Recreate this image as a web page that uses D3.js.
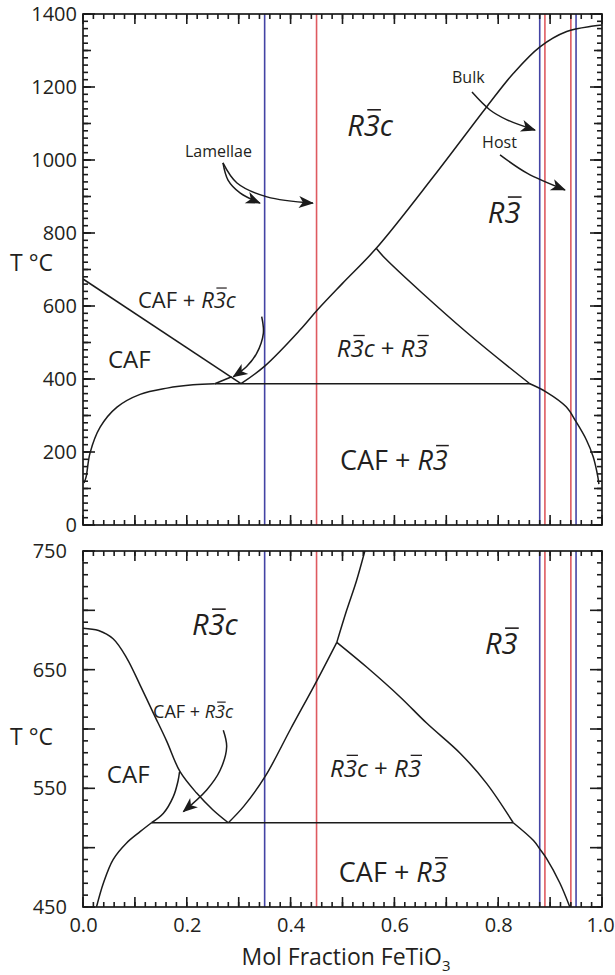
<!DOCTYPE html>
<html><head><meta charset="utf-8">
<script src="https://cdn.jsdelivr.net/npm/d3@7"></script>
<style>
body{margin:0;background:#fff}
svg{display:block}
text{font-family:"Open Sans","Noto Sans",sans-serif;fill:#231f20}
</style>
</head><body>
<svg id="chart" width="615" height="975"></svg>
<script>
// ---------------- DATA ----------------
const compositionTickLabels = [0.0, 0.2, 0.4, 0.6, 0.8, 1.0];
const topTempTickLabels = [0, 200, 400, 600, 800, 1000, 1200, 1400];
const bottomTempTickLabels = [450, 550, 650, 750];
const blueSampleLines = [0.35, 0.88, 0.95];
const redSampleLines = [0.45, 0.89, 0.94];

// upper panel (0-1400 C) phase boundaries [x, T]
const topCafSolvus = [[0.002,115],[0.006,132],[0.0135,197],[0.033,268],[0.0655,323],[0.11,358],[0.162,375],[0.212,384],[0.254,387]];
const topEutectoid = [[0.254,387],[0.862,387]];
const topCafLimit = [[0.254,387],[0.2865,406]];
const topCafR3cLine = [[0.0,674],[0.3044,387]];
const topR3cBoundary = [[0.3044,387],[0.3507,436],[0.418,534],[0.4515,589],[0.50,662],[0.565,758],[0.675,954],[0.778,1146],[0.829,1237],[0.8805,1310],[0.932,1352],[0.983,1367],[1.0,1370]];
const topTwoPhaseRight = [[0.565,758],[0.5825,730],[0.739,528],[0.861,387]];
const topR3Solvus = [[0.861,387],[0.892,365],[0.931,324],[0.95,283],[0.97,233],[0.983,187],[0.992,132],[0.994,112]];

// lower panel (450-750 C) phase boundaries [x, T]
const botCafUpper = [[0.0,685],[0.03,683],[0.058,676],[0.084,660],[0.11,637],[0.136,613],[0.161,590],[0.187,564],[0.219,546],[0.25,532],[0.28,521]];
const botR3cLower = [[0.28,521],[0.31,535],[0.351,560],[0.40,600],[0.451,641],[0.489,673]];
const botR3cUpper = [[0.489,673],[0.508,700],[0.527,725],[0.543,750]];
const botTwoPhaseRight = [[0.489,673],[0.547,652],[0.611,627],[0.662,605],[0.728,579],[0.778,554],[0.829,521]];
const botR3Solvus = [[0.829,521],[0.868,506],[0.88,499],[0.893,491],[0.919,470],[0.938,450]];
const botCafLower = [[0.026,450],[0.0392,470],[0.058,490],[0.084,504],[0.11,513.5],[0.132,521]];
const botCafLimit = [[0.132,521],[0.155,529],[0.174,543],[0.183,556],[0.186,564]];
const botEutectoid = [[0.132,521],[0.829,521]];

// annotation arrows [x, T]
const arrowLamellae1 = [[0.2697,992],[0.2794,945],[0.3025,910],[0.341,882]];
const arrowLamellae2 = [[0.2697,992],[0.2967,937],[0.3545,899],[0.443,882]];
const arrowBulk = [[0.7495,1186],[0.7842,1137],[0.817,1110],[0.871,1082]];
const arrowHost = [[0.8035,1014],[0.8555,964],[0.9287,918]];
const arrowTopCaf = [[0.3443,571],[0.3475,525],[0.3346,470],[0.3153,434],[0.2896,406]];
const arrowBotCaf = [[0.2703,599],[0.2768,585],[0.2640,565],[0.2383,548.6],[0.1933,530.3]];

// ---------------- LAYOUT ----------------
const svg = d3.select("#chart");
const X0 = 83, X1 = 602;
const x = d3.scaleLinear().domain([0,1]).range([X0,X1]);
const yTop = d3.scaleLinear().domain([0,1400]).range([525,14]);
const yBot = d3.scaleLinear().domain([450,750]).range([907,551]);

const BLUE = "#4444a4", RED = "#de5a60", INK = "#1b1b1b";
const TICK = INK;

const defs = svg.append("defs");
defs.append("marker").attr("id","ah").attr("markerUnits","userSpaceOnUse")
  .attr("markerWidth",20).attr("markerHeight",20).attr("refX",0).attr("refY",0)
  .attr("viewBox","-16 -8 20 16").attr("orient","auto")
  .append("path").attr("d","M1,0 L-14,-6 L-10,0 L-14,6 Z").attr("fill",INK);

const tickLayer = svg.append("g").attr("id","ticks");

function panel(y, cfg) {
  const g = svg.insert("g","#ticks");
  const [yb, yt] = y.range();
  const cid = "clip" + cfg.id;
  defs.append("clipPath").attr("id",cid).append("rect")
    .attr("x",X0).attr("y",yt).attr("width",X1-X0).attr("height",yb-yt);
  const plot = g.append("g").attr("clip-path",`url(#${cid})`);
  plot.selectAll("line.blue").data(blueSampleLines).join("line").attr("class","blue")
    .attr("x1",d=>x(d)).attr("x2",d=>x(d)).attr("y1",yt).attr("y2",yb)
    .attr("stroke",BLUE).attr("stroke-width",1.6);
  plot.selectAll("line.red").data(redSampleLines).join("line").attr("class","red")
    .attr("x1",d=>x(d)).attr("x2",d=>x(d)).attr("y1",yt).attr("y2",yb)
    .attr("stroke",RED).attr("stroke-width",1.6);
  const lineCurve = d3.line().x(d=>x(d[0])).y(d=>y(d[1])).curve(d3.curveCatmullRom.alpha(0.5));
  plot.selectAll("path.bd").data(cfg.curves).join("path").attr("class","bd")
    .attr("d",lineCurve).attr("fill","none").attr("stroke",INK).attr("stroke-width",1.5);

  g.append("rect").attr("x",X0).attr("y",yt).attr("width",X1-X0).attr("height",yb-yt)
    .attr("fill","none").attr("stroke",INK).attr("stroke-width",1.7);

  const xt = (vals,len) => {
    tickLayer.append("g").selectAll("line").data(vals).enter().append("line")
      .attr("x1",d=>x(d)).attr("x2",d=>x(d)).attr("y1",yb).attr("y2",yb-len)
      .attr("stroke",TICK).attr("stroke-width",1.6);
    tickLayer.append("g").selectAll("line").data(vals).enter().append("line")
      .attr("x1",d=>x(d)).attr("x2",d=>x(d)).attr("y1",yt).attr("y2",yt+len)
      .attr("stroke",TICK).attr("stroke-width",1.6);
  };
  const yticks = (vals,len) => {
    tickLayer.append("g").selectAll("line").data(vals).enter().append("line")
      .attr("x1",X0).attr("x2",X0+len).attr("y1",d=>y(d)).attr("y2",d=>y(d))
      .attr("stroke",TICK).attr("stroke-width",1.6);
    tickLayer.append("g").selectAll("line").data(vals).enter().append("line")
      .attr("x1",X1).attr("x2",X1-len).attr("y1",d=>y(d)).attr("y2",d=>y(d))
      .attr("stroke",TICK).attr("stroke-width",1.6);
  };
  xt(d3.range(0,51).map(i=>i/50), 5);
  xt(d3.range(0,11).map(i=>i/10), 10);
  cfg.yTickSets.forEach(([vals,len]) => yticks(vals,len));

  const yl = g.append("g").attr("transform",`translate(${X0},0)`)
    .call(d3.axisLeft(y).tickValues(cfg.yLabels).tickSize(0).tickPadding(cfg.yPad).tickFormat(d3.format("d")));
  yl.select(".domain").remove();
  yl.selectAll("text").style("font-size","20px").style("font-family",'"Open Sans",sans-serif').attr("fill","#231f20");

  const arrowCurve = d3.line().x(d=>x(d[0])).y(d=>y(d[1])).curve(d3.curveCatmullRom.alpha(0.5));
  g.selectAll("path.arrow").data(cfg.arrows||[]).join("path").attr("class","arrow")
    .attr("d",arrowCurve).attr("fill","none")
    .attr("stroke",INK).attr("stroke-width",1.5).attr("marker-end","url(#ah)");
  return g;
}

function label(px, py, parts, fs) {
  const t = svg.append("text").attr("x",px).attr("y",py).style("font-size",fs+"px");
  let idx = 0; const bars = [];
  parts.forEach(p => {
    const ts = t.append("tspan").text(p.t);
    if (p.it) ts.style("font-style","italic");
    if (p.sub) ts.style("font-size",(fs*0.65)+"px").attr("dy",fs*0.25);
    if (p.bar) bars.push(idx);
    idx += p.t.length;
  });
  const node = t.node();
  bars.forEach(i => {
    const e = node.getExtentOfChar(i);
    svg.append("line").attr("x1",e.x+0.12*fs).attr("x2",e.x+e.width+0.04*fs)
      .attr("y1",py-0.9*fs).attr("y2",py-0.9*fs).attr("stroke","#231f20").attr("stroke-width",Math.max(1.2,0.055*fs));
  });
  return t;
}
const R3c = [{t:"R",it:true},{t:"3",it:true,bar:true},{t:"c",it:true}];
const R3 = [{t:"R",it:true},{t:"3",it:true,bar:true}];

panel(yTop, {
  id:"top",
  curves:[topCafSolvus, topEutectoid, topCafLimit, topCafR3cLine, topR3cBoundary, topTwoPhaseRight, topR3Solvus],
  yTickSets:[[d3.range(0,1401,20),5],[d3.range(0,1401,100),8],[d3.range(0,1401,200),12]],
  yLabels: topTempTickLabels, yPad: 6,
  arrows:[arrowLamellae1, arrowLamellae2, arrowBulk, arrowHost, arrowTopCaf]
});
panel(yBot, {
  id:"bot",
  curves:[botCafUpper, botR3cLower, botR3cUpper, botTwoPhaseRight, botR3Solvus, botCafLower, botCafLimit, botEutectoid],
  yTickSets:[[d3.range(450,751,10),5],[d3.range(450,751,50),12]],
  yLabels: bottomTempTickLabels, yPad: 16,
  arrows:[arrowBotCaf]
});

const xl = svg.append("g").attr("transform",`translate(0,907)`)
  .call(d3.axisBottom(x).tickValues(compositionTickLabels).tickSize(0).tickPadding(11).tickFormat(d3.format(".1f")));
xl.select(".domain").remove();
xl.selectAll("text").style("font-size","20px").style("font-family",'"Open Sans",sans-serif').attr("fill","#231f20");
xl.selectAll("text").filter(d=>d===1.0).attr("dx",-2);

label(346, 965, [{t:"Mol Fraction FeTiO"},{t:"3",sub:true}], 23).attr("text-anchor","middle");
label(10, 271, [{t:"T °C"}], 23);
label(10, 745, [{t:"T °C"}], 23);

label(x(0.509), yTop(1066), R3c, 29);
label(x(0.780), yTop(827), R3, 29);
label(x(0.711), yTop(1211), [{t:"Bulk"}], 16);
label(x(0.769), yTop(1033), [{t:"Host"}], 16);
label(x(0.1965), yTop(1008), [{t:"Lamellae"}], 16);
label(x(0.106), yTop(595), [{t:"CAF + "}].concat(R3c), 22);
label(x(0.048), yTop(430), [{t:"CAF"}], 24);
label(x(0.489), yTop(460), R3c.concat([{t:" + "}], R3), 24);
label(x(0.495), yTop(151), [{t:"CAF + "}].concat(R3), 27);

label(x(0.21), yBot(679), R3c, 29);
label(x(0.7746), yBot(663), R3, 29);
label(x(0.135), yBot(609), [{t:"CAF + "}].concat(R3c), 18);
label(x(0.046), yBot(554.5), [{t:"CAF"}], 24);
label(x(0.476), yBot(559.6), R3c.concat([{t:" + "}], R3), 24);
label(x(0.493), yBot(471), [{t:"CAF + "}].concat(R3), 27);
</script>
</body></html>
